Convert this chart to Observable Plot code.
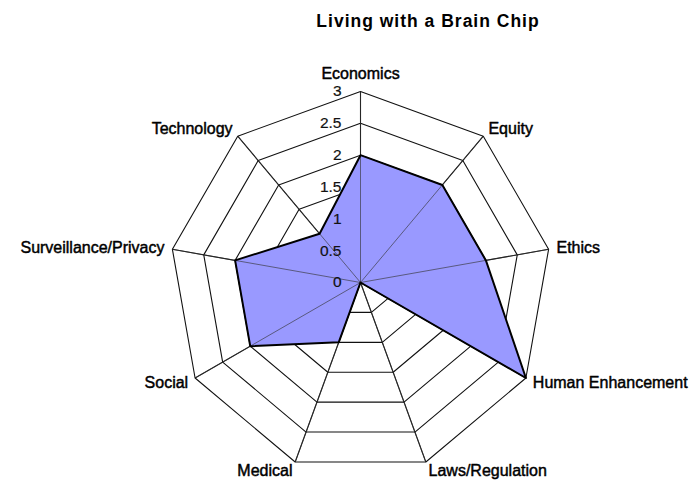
<!DOCTYPE html>
<html>
<head>
<meta charset="utf-8">
<script src="https://cdn.jsdelivr.net/npm/d3@7"></script>
<script src="https://cdn.jsdelivr.net/npm/@observablehq/plot@0.6"></script>
<style>
  body { margin: 0; background: #fff; font-family: "Liberation Sans", Arial, sans-serif; }
  #title { width: 560px; margin-left: 148px; height: 40px; line-height: 42px; text-align: center;
           font-weight: bold; font-size: 17.5px; letter-spacing: 1px; color: #000; }
</style>
</head>
<body>
<div id="title">Living with a Brain Chip</div>
<div id="chart"></div>
<script>
const categories = ["Economics", "Equity", "Ethics", "Human Enhancement", "Laws/Regulation", "Medical", "Social", "Surveillance/Privacy", "Technology"];
const values = [2, 2, 2, 3, 0, 1, 2, 2, 1];
const ringLevels = [0.5, 1, 1.5, 2, 2.5, 3];
const tickValues = [0, 0.5, 1, 1.5, 2, 2.5, 3];
const tickLabels = ["0", "0.5", "1", "1.5", "2", "2.5", "3"];
const maxValue = 3;

const n = categories.length;
const ang = i => i * 2 * Math.PI / n;
const px = (v, i) => v * Math.sin(ang(i));
const py = (v, i) => v * Math.cos(ang(i));

const ringPts = [];
for (const lv of ringLevels) categories.forEach((c, i) => ringPts.push({level: lv, x: px(lv, i), y: py(lv, i)}));
const spokes = categories.map((c, i) => ({x2: px(maxValue, i), y2: py(maxValue, i)}));
const poly = categories.map((c, i) => ({x: px(values[i], i), y: py(values[i], i)}));
const ticks = tickValues.map((v, k) => ({v, label: tickLabels[k]}));

const W = 696, H = 441, cx = 360, cy = 242, R = 191;

const labelMarks = categories.map((c, i) => {
  const s = Math.sin(ang(i)), co = Math.cos(ang(i));
  const anchor = s > 0.1 ? "start" : (s < -0.1 ? "end" : "middle");
  const dx = anchor === "middle" ? 0 : 8 * s;
  const dy = -9 * co - (anchor === "middle" ? 9 : 0);
  return Plot.text([{x: px(maxValue, i), y: py(maxValue, i), t: c}], {
    x: "x", y: "y", text: "t", textAnchor: anchor, dx, dy,
    fontSize: 16, fill: "#000", stroke: "#000", strokeWidth: 0.45
  });
});

const chart = Plot.plot({
  width: W, height: H,
  margin: 0,
  x: {domain: [-maxValue, maxValue], range: [cx - R, cx + R], axis: null},
  y: {domain: [-maxValue, maxValue], range: [cy + R, cy - R], axis: null},
  style: {fontFamily: "'Liberation Sans', Arial, sans-serif", background: "white", overflow: "visible"},
  marks: [
    Plot.line(ringPts, {x: "x", y: "y", z: "level", curve: "linear-closed", stroke: "#111", strokeWidth: 1.1}),
    Plot.link(spokes, {x1: 0, y1: 0, x2: "x2", y2: "y2", stroke: "#111", strokeWidth: 1.1}),
    Plot.line(poly, {x: "x", y: "y", curve: "linear-closed", fill: "#9999ff", stroke: "none"}),
    Plot.link(spokes, {x1: 0, y1: 0, x2: "x2", y2: "y2", stroke: "#333", strokeWidth: 0.9, strokeOpacity: 0.7}),
    Plot.line(poly, {x: "x", y: "y", curve: "linear-closed", stroke: "#000", strokeWidth: 2}),
    Plot.text(ticks, {x: 0, y: "v", text: "label", textAnchor: "end", dx: -19, fontSize: 15.5, fill: "#111", stroke: "#111", strokeWidth: 0.2}),
    ...labelMarks
  ]
});
document.getElementById("chart").appendChild(chart);
</script>
</body>
</html>
